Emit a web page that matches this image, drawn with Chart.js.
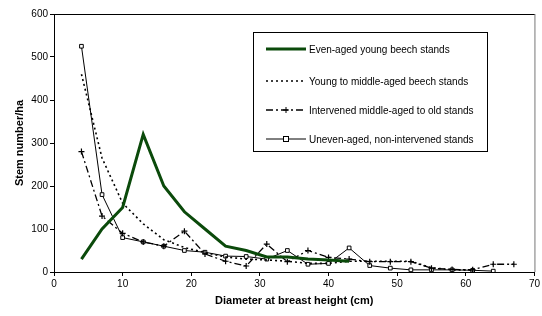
<!DOCTYPE html>
<html>
<head>
<meta charset="utf-8">
<script src="https://cdn.jsdelivr.net/npm/chart.js@4.4.1/dist/chart.umd.min.js"></script>
<style>
  html, body { margin: 0; padding: 0; background: #fff; }
  #wrap { position: relative; width: 542px; height: 316px; }
  #legend {
    position: absolute; left: 253px; top: 32px; width: 235px; height: 120px;
    border: 1px solid #000; background: #fff; box-sizing: border-box;
    font-family: 'Liberation Sans', Arial, sans-serif; font-size: 10px; color: #000;
  }
  .leg-row { position: absolute; left: 0; height: 12px; display: flex; align-items: center; }
  .leg-row canvas { margin-left: 12px; margin-right: 3px; }
</style>
</head>
<body>
<div id="wrap">
  <canvas id="chart" width="542" height="316"></canvas>
  <div id="legend"></div>
</div>
<script>
// ── data ──────────────────────────────────────
const evenDbh   = [4, 7, 10, 13, 16, 19, 22, 25, 28, 31, 34, 37, 40, 43];
const evenStems = [30, 100, 150, 320, 200, 140, 100, 60, 50, 35, 35, 30, 28, 25];

const youngDbh   = [4, 7, 10, 13, 16, 19, 22, 25, 28, 31, 34, 37, 40, 43, 46, 49, 52, 55, 58, 61];
const youngStems = [460, 265, 160, 112, 75, 57, 45, 35, 30, 28, 25, 20, 20, 25, 25, 25, 25, 10, 5, 5];

const intervDbh   = [4, 7, 10, 13, 16, 19, 22, 25, 28, 31, 34, 37, 40, 43, 46, 49, 52, 55, 58, 61, 64, 67];
const intervStems = [280, 130, 90, 70, 60, 95, 42, 25, 14, 65, 24, 50, 34, 30, 24, 24, 24, 9, 6, 5, 18, 18];

const unevenDbh   = [4, 7, 10, 13, 16, 19, 22, 25, 28, 31, 34, 37, 40, 43, 46, 49, 52, 55, 58, 61, 64];
const unevenStems = [525, 180, 80, 70, 60, 50, 46, 37, 36, 30, 50, 18, 20, 56, 15, 9, 5, 5, 5, 4, 2];

const seriesLabels = [
  'Even-aged young beech stands',
  'Young to middle-aged beech stands',
  'Intervened middle-aged to old stands',
  'Uneven-aged, non-intervened stands'
];
const xTicks = [0, 10, 20, 30, 40, 50, 60, 70];
const yTicks = [0, 100, 200, 300, 400, 500, 600];

const pts = (xs, ys) => xs.map((x, i) => ({ x, y: ys[i] }));
const FONT = 'Liberation Sans, Arial, sans-serif';

const datasets = [
  { label: seriesLabels[0], data: pts(evenDbh, evenStems), borderColor: '#0b4a0b', borderWidth: 3,
    pointRadius: 0 },
  { label: seriesLabels[1], data: pts(youngDbh, youngStems), borderColor: '#000', borderWidth: 1.6,
    borderDash: [2, 3], pointRadius: 0 },
  { label: seriesLabels[2], data: pts(intervDbh, intervStems), borderColor: '#000', borderWidth: 1.3,
    borderDash: [7, 3, 2, 3], pointStyle: 'cross', pointRadius: 3, pointBorderWidth: 1.2, pointBorderColor: '#000' },
  { label: seriesLabels[3], data: pts(unevenDbh, unevenStems), borderColor: '#000', borderWidth: 1,
    pointStyle: 'rect', pointRadius: 2.6, pointBorderWidth: 1, pointBorderColor: '#000', pointBackgroundColor: '#fff' }
];

// plot area border (Excel style box)
const frame = {
  id: 'frame',
  afterDraw(c) {
    const a = c.chartArea, ctx = c.ctx;
    ctx.save();
    ctx.lineWidth = 1;
    ctx.beginPath();
    ctx.strokeStyle = '#000';
    ctx.moveTo(a.left, a.top + 0.5); ctx.lineTo(a.right + 0.5, a.top + 0.5);
    ctx.stroke();
    ctx.beginPath();
    ctx.strokeStyle = '#777';
    ctx.moveTo(a.right + 0.5, a.top); ctx.lineTo(a.right + 0.5, a.bottom);
    ctx.stroke();
    ctx.restore();
  }
};

const axisCommon = {
  grid: { display: true, drawOnChartArea: false, drawTicks: true, tickLength: 4, color: '#000' },
  border: { display: true, color: '#000', width: 1 },
  ticks: { color: '#000', font: { family: FONT, size: 10 }, padding: 2 }
};

new Chart(document.getElementById('chart'), {
  type: 'line',
  data: { datasets },
  options: {
    responsive: false, animation: false,
    layout: { padding: { top: 14, right: 4, left: 13, bottom: 8 } },
    plugins: { legend: { display: false }, tooltip: { enabled: false } },
    scales: {
      x: {
        ...axisCommon, type: 'linear', min: 0, max: 70,
        afterBuildTicks: s => { s.ticks = xTicks.map(v => ({ value: v })); },
        title: { display: true, text: 'Diameter at breast height (cm)', color: '#000',
          font: { family: FONT, size: 11, weight: 'bold' }, padding: { top: 2, bottom: 0 } },
        afterFit: s => { s.height = 36; }
      },
      y: {
        ...axisCommon, min: 0, max: 600,
        afterBuildTicks: s => { s.ticks = yTicks.map(v => ({ value: v })); },
        title: { display: true, text: 'Stem number/ha', color: '#000',
          font: { family: FONT, size: 11, weight: 'bold' }, padding: { top: 0, bottom: 4 } },
        afterFit: s => { s.width = 41; }
      }
    }
  },
  plugins: [frame]
});

// legend box with drawn line samples
const legend = document.getElementById('legend');
const rowTops = [10, 42, 71, 100];
datasets.forEach((d, i) => {
  const row = document.createElement('div');
  row.className = 'leg-row';
  row.style.top = rowTops[i] + 'px';
  const cv = document.createElement('canvas');
  cv.width = 40; cv.height = 12;
  const g = cv.getContext('2d');
  g.strokeStyle = d.borderColor; g.lineWidth = d.borderWidth;
  g.setLineDash(d.borderDash || []);
  g.beginPath(); g.moveTo(0, 6); g.lineTo(40, 6); g.stroke();
  g.setLineDash([]);
  if (d.pointStyle === 'cross') {
    g.lineWidth = 1; g.beginPath();
    g.moveTo(20, 3); g.lineTo(20, 9); g.moveTo(17, 6); g.lineTo(23, 6); g.stroke();
  } else if (d.pointStyle === 'rect') {
    g.lineWidth = 1; g.fillStyle = '#fff';
    g.fillRect(17.5, 3.5, 5, 5); g.strokeRect(17.5, 3.5, 5, 5);
  }
  const span = document.createElement('span');
  span.textContent = d.label;
  row.appendChild(cv); row.appendChild(span);
  legend.appendChild(row);
});
</script>
</body>
</html>
